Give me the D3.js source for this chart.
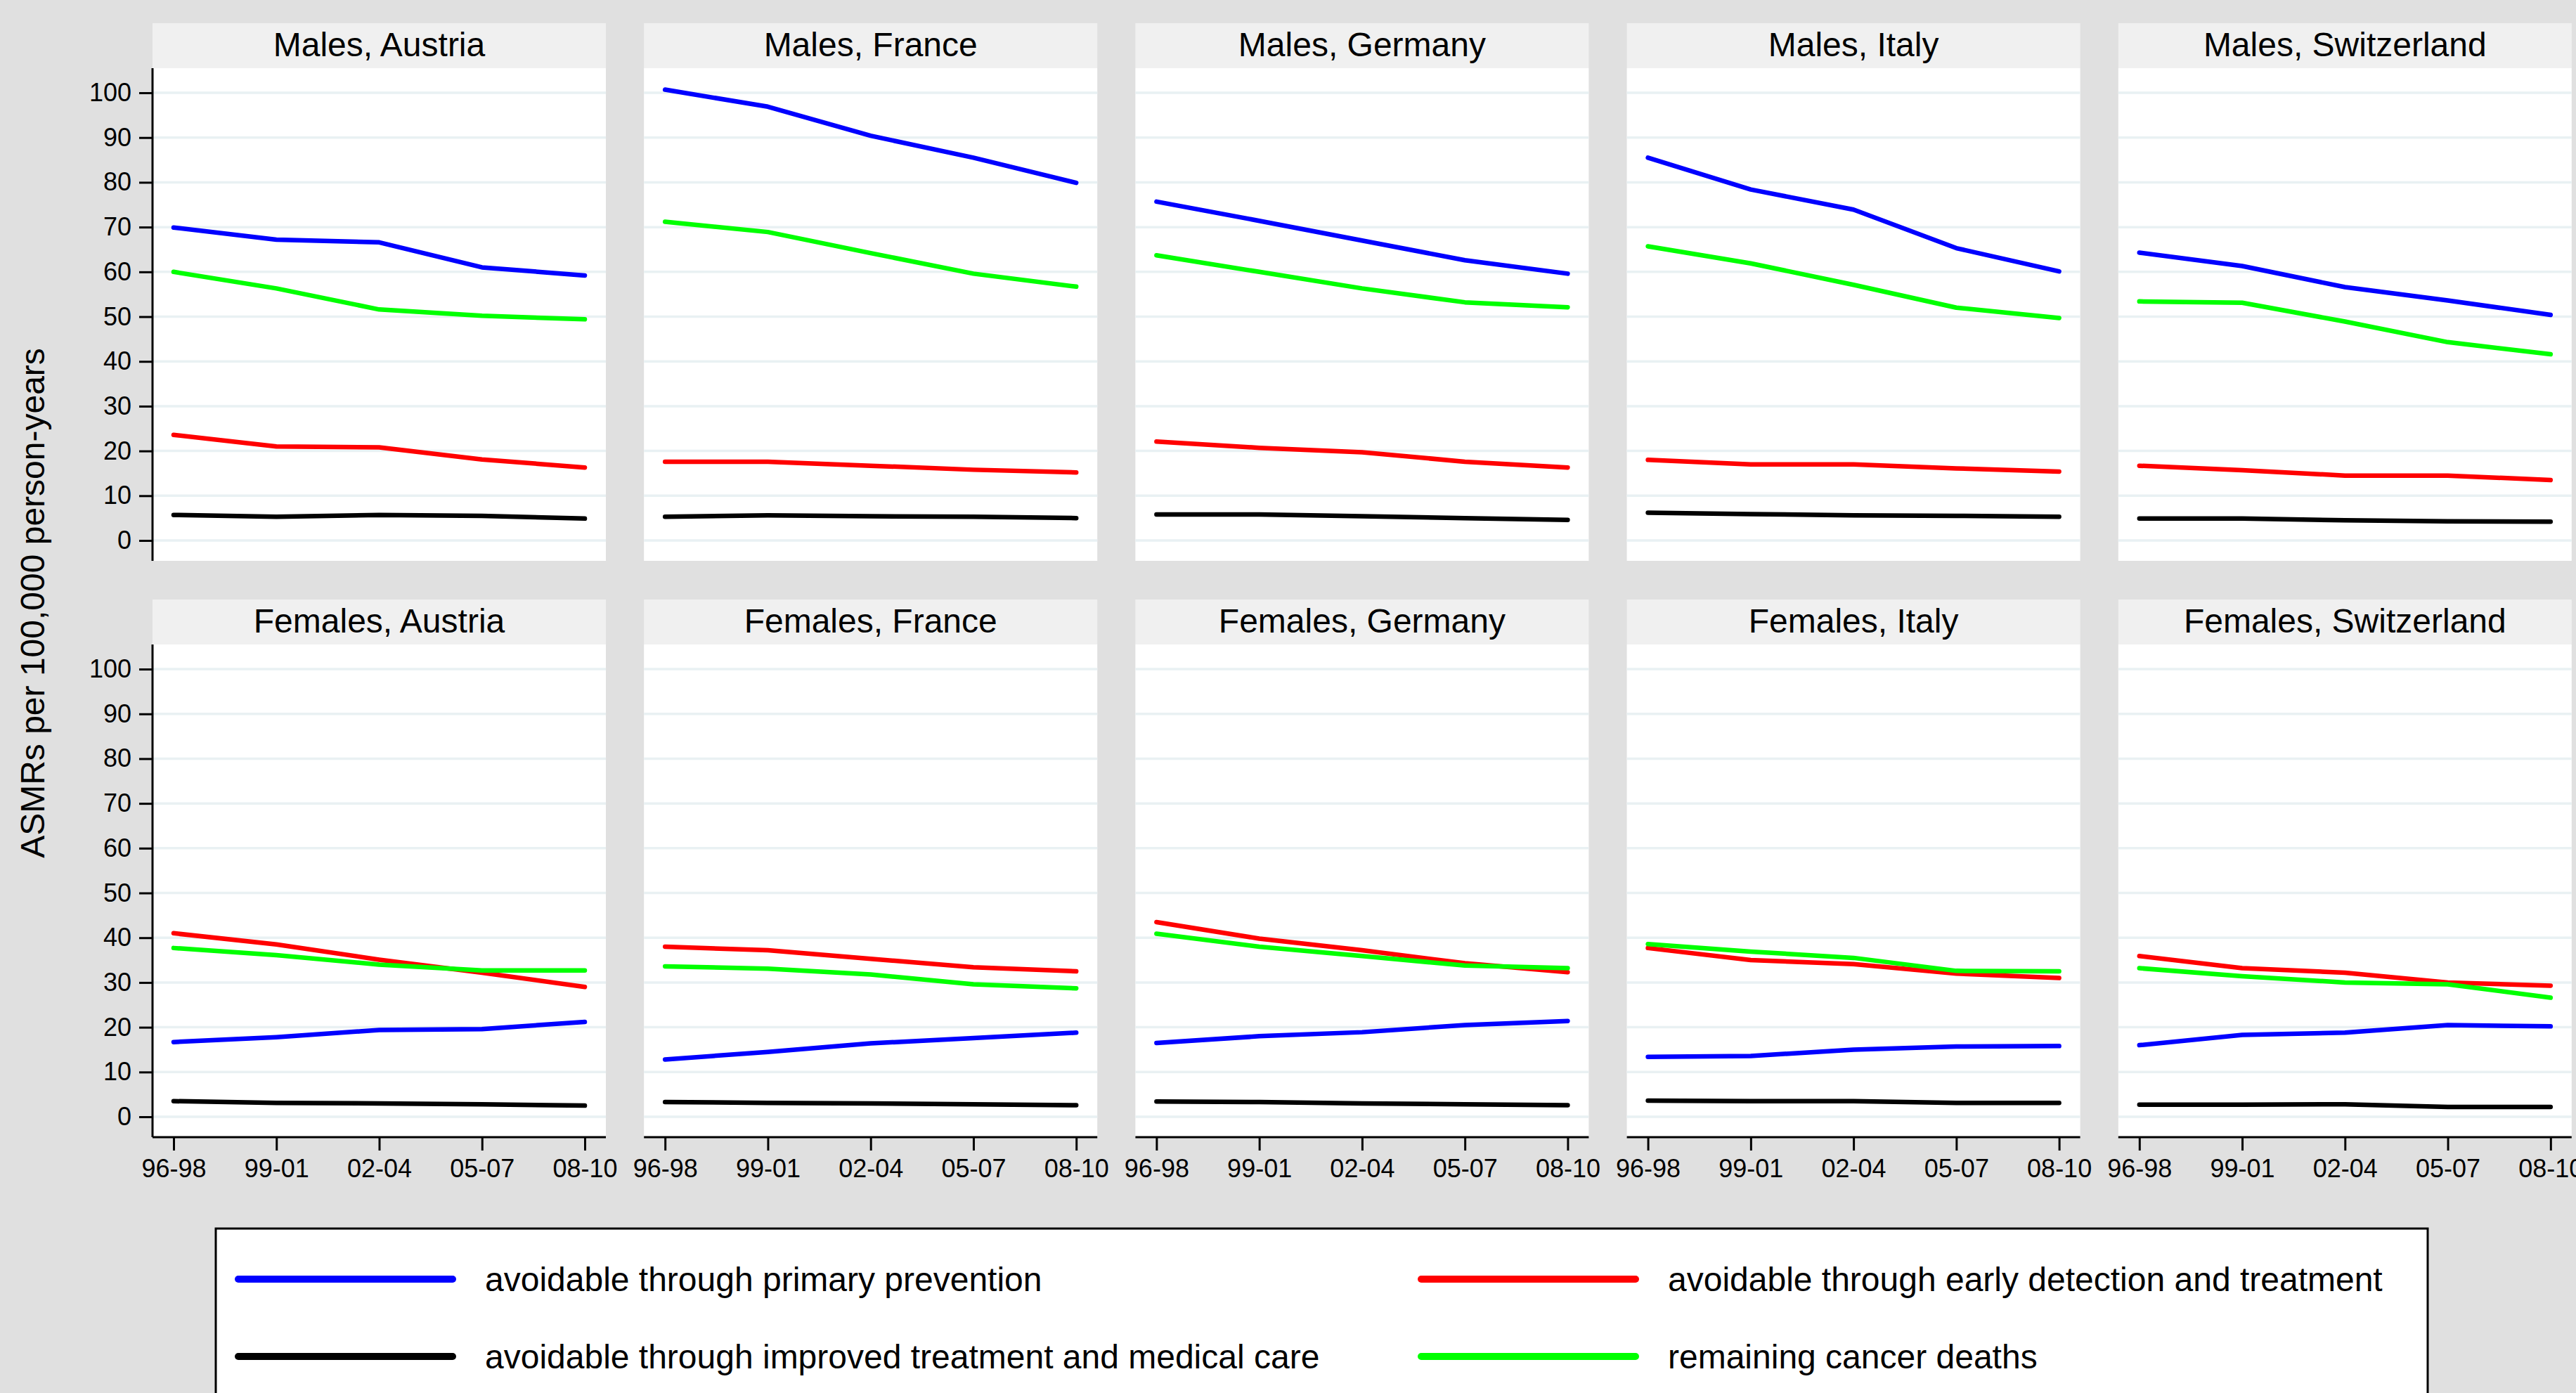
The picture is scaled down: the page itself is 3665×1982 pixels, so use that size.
<!DOCTYPE html>
<html>
<head>
<meta charset="utf-8">
<script src="https://cdn.jsdelivr.net/npm/d3@7"></script>
<style>
  html, body { margin: 0; padding: 0; background: #e0e0e0; }
  svg { display: block; font-family: Arial, "Liberation Sans", sans-serif; }
</style>
</head>
<body>
<svg id="chart" width="3665" height="1982"></svg>
<script>
// ---------- data ----------
const periods = ["96-98", "99-01", "02-04", "05-07", "08-10"];
const countries = ["Austria", "France", "Germany", "Italy", "Switzerland"];
const sexes = ["Males", "Females"];
const yTicks = [0, 10, 20, 30, 40, 50, 60, 70, 80, 90, 100];
const seriesLabels = [
  "avoidable through primary prevention",
  "avoidable through early detection and treatment",
  "avoidable through improved treatment and medical care",
  "remaining cancer deaths"
];
const seriesColors = ["#0000ff", "#ff0000", "#000000", "#00ff00"];

// values per country (rows) and period (columns)
const malesPrimary = [
  [69.9, 67.2, 66.6, 61.0, 59.2],
  [100.7, 96.9, 90.4, 85.5, 79.9],
  [75.7, 71.4, 67.0, 62.6, 59.6],
  [85.5, 78.4, 73.9, 65.3, 60.1],
  [64.3, 61.3, 56.6, 53.6, 50.4]
];
const malesEarly = [
  [23.6, 21.0, 20.8, 18.1, 16.3],
  [17.6, 17.6, 16.7, 15.8, 15.2],
  [22.1, 20.7, 19.7, 17.6, 16.3],
  [18.0, 17.0, 17.0, 16.1, 15.4],
  [16.7, 15.7, 14.5, 14.5, 13.5]
];
const malesTreatment = [
  [5.7, 5.3, 5.7, 5.5, 4.9],
  [5.3, 5.6, 5.4, 5.3, 5.0],
  [5.8, 5.8, 5.4, 5.0, 4.6],
  [6.2, 5.9, 5.6, 5.5, 5.3],
  [4.9, 4.9, 4.5, 4.3, 4.2]
];
const malesRemaining = [
  [60.0, 56.3, 51.6, 50.2, 49.4],
  [71.2, 68.9, 64.2, 59.6, 56.7],
  [63.7, 60.0, 56.3, 53.2, 52.1],
  [65.7, 61.9, 57.1, 52.0, 49.7],
  [53.4, 53.1, 48.9, 44.3, 41.6]
];
const femalesPrimary = [
  [16.7, 17.8, 19.4, 19.6, 21.2],
  [12.8, 14.5, 16.4, 17.6, 18.8],
  [16.5, 18.0, 18.9, 20.5, 21.4],
  [13.4, 13.6, 15.0, 15.7, 15.8],
  [16.0, 18.3, 18.8, 20.5, 20.2]
];
const femalesEarly = [
  [41.0, 38.5, 35.1, 32.2, 29.0],
  [38.0, 37.2, 35.3, 33.4, 32.5],
  [43.5, 39.8, 37.2, 34.3, 32.3],
  [37.7, 35.0, 34.1, 32.0, 31.0],
  [35.9, 33.2, 32.2, 30.0, 29.3]
];
const femalesTreatment = [
  [3.5, 3.1, 3.0, 2.8, 2.5],
  [3.3, 3.1, 3.0, 2.8, 2.6],
  [3.4, 3.3, 3.0, 2.8, 2.6],
  [3.6, 3.5, 3.5, 3.1, 3.1],
  [2.7, 2.7, 2.8, 2.2, 2.2]
];
const femalesRemaining = [
  [37.7, 36.1, 34.0, 32.7, 32.7],
  [33.6, 33.1, 31.8, 29.6, 28.7],
  [40.9, 38.0, 35.9, 33.8, 33.2],
  [38.6, 36.9, 35.5, 32.6, 32.5],
  [33.2, 31.4, 30.0, 29.6, 26.6]
];

const seriesBySex = [
  [malesPrimary, malesEarly, malesTreatment, malesRemaining],
  [femalesPrimary, femalesEarly, femalesTreatment, femalesRemaining]
];

// ---------- layout ----------
const svg = d3.select("#chart");
svg.append("rect").attr("x", 0).attr("y", 0).attr("width", 3665).attr("height", 1982).attr("fill", "#e0e0e0");

const panelLeft0 = 217, panelStep = 699.2, panelW = 645;
const rowStripTop = [33, 853];
const stripH = 64;
const plotH = 701;
const fontTick = 36, fontTitle = 48;

const x = d3.scalePoint().domain(periods).range([0, panelW]).padding(0.205);

sexes.forEach((sex, r) => {
  const stripTop = rowStripTop[r];
  const plotTop = stripTop + stripH;
  const plotBottom = plotTop + plotH;
  const y = d3.scaleLinear().domain([-4.55, 105.5]).range([plotBottom, plotTop]);

  countries.forEach((country, c) => {
    const left = panelLeft0 + c * panelStep;
    const g = svg.append("g").attr("transform", `translate(${left},0)`);

    // strip
    g.append("rect").attr("x", 0).attr("y", stripTop).attr("width", panelW).attr("height", stripH).attr("fill", "#f0f0f0");
    g.append("text").attr("x", panelW / 2).attr("y", stripTop + 47)
      .attr("text-anchor", "middle").attr("font-size", fontTitle).attr("fill", "#000")
      .text(`${sex}, ${country}`);

    // plot area
    g.append("rect").attr("x", 0).attr("y", plotTop).attr("width", panelW).attr("height", plotH).attr("fill", "#ffffff");

    // grid
    g.append("g").selectAll("line").data(yTicks).join("line")
      .attr("x1", 0).attr("x2", panelW)
      .attr("y1", d => y(d)).attr("y2", d => y(d))
      .attr("stroke", "#e9f1f3").attr("stroke-width", 3.5);

    // series lines
    const line = d3.line().x((d, i) => x(periods[i])).y(d => y(d));
    seriesBySex[r].forEach((arr, s) => {
      g.append("path").datum(arr[c])
        .attr("d", line)
        .attr("fill", "none")
        .attr("stroke", seriesColors[s])
        .attr("stroke-width", 6.5)
        .attr("stroke-linecap", "round")
        .attr("stroke-linejoin", "round");
    });

    // y axis on first column
    if (c === 0) {
      const yAxis = d3.axisLeft(y).tickValues(yTicks).tickSize(19).tickPadding(11).tickSizeOuter(0);
      const ga = g.append("g").call(yAxis);
      ga.select(".domain").attr("stroke", "#000").attr("stroke-width", 3)
        .attr("d", `M0,${plotTop}V${plotBottom}`);
      ga.selectAll(".tick line").attr("stroke", "#000").attr("stroke-width", 3);
      ga.selectAll(".tick text").attr("font-size", fontTick).attr("fill", "#000")
        .attr("font-family", "Arial, 'Liberation Sans', sans-serif");
    }

    // x axis on bottom row
    if (r === 1) {
      const xAxis = d3.axisBottom(x).tickSize(19).tickPadding(12).tickSizeOuter(0);
      const gx = g.append("g").attr("transform", `translate(0,${plotBottom})`).call(xAxis);
      gx.select(".domain").attr("stroke", "#000").attr("stroke-width", 3).attr("d", `M0,0H${panelW}`);
      gx.selectAll(".tick line").attr("stroke", "#000").attr("stroke-width", 3);
      gx.selectAll(".tick text").attr("font-size", fontTick).attr("fill", "#000")
        .attr("font-family", "Arial, 'Liberation Sans', sans-serif");
    }
  });
});

// y axis title
svg.append("text")
  .attr("transform", "translate(63,858) rotate(-90)")
  .attr("text-anchor", "middle").attr("font-size", fontTitle).attr("fill", "#000")
  .text("ASMRs per 100,000 person-years");

// ---------- legend ----------
const legendLeft = 307, legendTop = 1748, legendRight = 3454;
svg.append("rect")
  .attr("x", legendLeft).attr("y", legendTop)
  .attr("width", legendRight - legendLeft).attr("height", 400)
  .attr("fill", "#ffffff").attr("stroke", "#000").attr("stroke-width", 3);

const legendCols = [339, 2022];
const legendRows = [1820, 1930];
const legendLineLen = 305;
seriesLabels.forEach((lab, i) => {
  const col = i % 2, row = Math.floor(i / 2);
  const lx = legendCols[col], ly = legendRows[row];
  svg.append("line").attr("x1", lx).attr("x2", lx + legendLineLen)
    .attr("y1", ly).attr("y2", ly)
    .attr("stroke", seriesColors[i]).attr("stroke-width", 10).attr("stroke-linecap", "round");
  svg.append("text").attr("x", lx + legendLineLen + 46).attr("y", ly + 17)
    .attr("font-size", fontTitle).attr("fill", "#000").text(lab);
});
</script>
</body>
</html>
